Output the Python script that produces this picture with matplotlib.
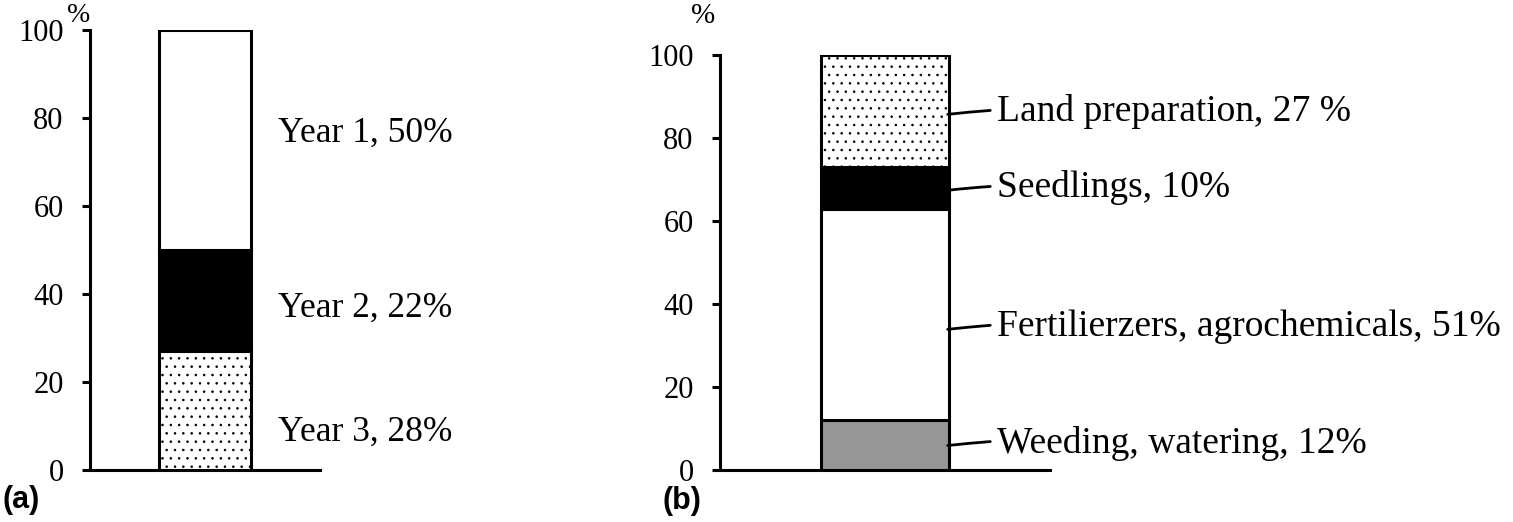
import matplotlib.pyplot as plt

# 数据：左图（年度）与右图（成本构成）
Year_Labels = ["Year 3, 28%", "Year 2, 22%", "Year 1, 50%"]
Year_Values = [27, 23, 50]

Cost_Labels = ["Weeding, watering, 12%", "Fertilierzers, agrochemicals, 51%",
               "Seedlings, 10%", "Land preparation, 27 %"]
Cost_Values = [12, 51, 10, 27]

Y_Ticks = [0, 20, 40, 60, 80, 100]

plt.rcParams['font.family'] = ['Liberation Serif', 'DejaVu Serif']
plt.rcParams['hatch.linewidth'] = 0.6

W, H = 1513, 522
fig = plt.figure(figsize = (W / 100, H / 100), dpi = 100)


def px_axes(x0, x1, ytop, ybot):
    return fig.add_axes([x0 / W, 1 - ybot / H, (x1 - x0) / W, (ybot - ytop) / H])


def style_axes(ax):
    for s in ['top', 'right']:
        ax.spines[s].set_visible(False)
    for s in ['left', 'bottom']:
        ax.spines[s].set_linewidth(2.2)
    ax.set_ylim(0, 100)
    ax.set_xlim(-0.5, 0.5)
    ax.set_yticks(Y_Ticks)
    ax.set_xticks([])
    ax.tick_params(axis = 'y', direction = 'out', length = 6, width = 2.2,
                   labelsize = 22, pad = 13)


def stack_bar(ax, values, styles, width):
    bottom = 0
    for v, (fc, hatch) in zip(values, styles):
        ax.bar(0, v, width = width, bottom = bottom, color = fc, hatch = hatch,
               edgecolor = 'black', linewidth = 2.2, zorder = 3)
        bottom += v


## (a) 左图
ax1 = px_axes(90, 320, 30, 470)
style_axes(ax1)
stack_bar(ax1, Year_Values, [('white', '..'), ('black', None), ('white', None)], 0.4)
year_y = [8.6, 36.8, 76.6]
for lab, y in zip(Year_Labels, year_y):
    ax1.text(0.817, y, lab, transform = ax1.get_yaxis_transform(),
             fontsize = 25.5, va = 'center', ha = 'left')
fig.text(79 / W, 1 - 15 / H, "%", fontsize = 20, ha = 'center', va = 'center')
fig.text(2 / W, 1 - 500 / H, "(a)", fontsize = 22, fontweight = 'bold',
         family = 'Liberation Sans', ha = 'left', va = 'center')

## (b) 右图
ax2 = px_axes(720, 1050, 55, 470)
style_axes(ax2)
stack_bar(ax2, Cost_Values, [('#969696', None), ('white', None), ('black', None),
                             ('white', '..')], 0.39)
cost_y = [6.5, 34.5, 68, 86.3]
for lab, y in zip(Cost_Labels, cost_y):
    ax2.annotate(lab, xy = (0.69, y - 0.6), xycoords = ax2.get_yaxis_transform(),
                 xytext = (0.84, y), textcoords = ax2.get_yaxis_transform(),
                 fontsize = 27, va = 'center', ha = 'left',
                 arrowprops = dict(arrowstyle = '-', lw = 2.0, color = 'black',
                                   shrinkA = 3, shrinkB = 0,
                                   connectionstyle = 'arc3,rad=0.05'))
fig.text(703 / W, 1 - 16 / H, "%", fontsize = 21, ha = 'center', va = 'center')
fig.text(662 / W, 1 - 501 / H, "(b)", fontsize = 22, fontweight = 'bold',
         family = 'Liberation Sans', ha = 'left', va = 'center')

fig.savefig("out.png", dpi = 100)
